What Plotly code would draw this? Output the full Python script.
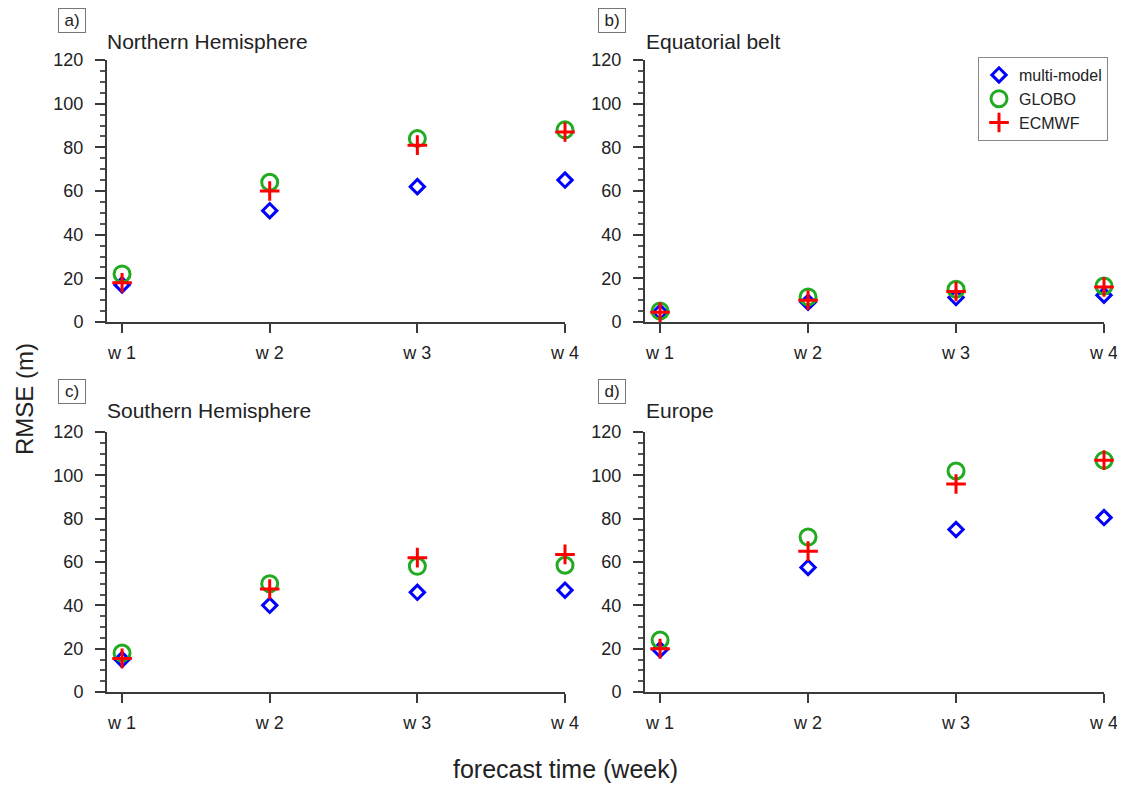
import plotly.graph_objects as go

# The page body has an 8px default margin: the figure is sized to fit inside
# the 1125x794 window and all screen positions are offset by that margin.
OFF = 8
FW, FH = 1125 - 2 * OFF, 794 - 2 * OFF


def px(x):
    return (x - OFF) / FW


def py(y):
    return 1 - (y - OFF) / FH


weeks = ["w 1", "w 2", "w 3", "w 4"]
series_names = ["multi-model", "GLOBO", "ECMWF"]
panel_titles = ["Northern Hemisphere", "Equatorial belt", "Southern Hemisphere", "Europe"]
panel_tags = ["a)", "b)", "c)", "d)"]
y_ticks = [0, 20, 40, 60, 80, 100, 120]

nh_multi = [17, 51, 62, 65]
nh_globo = [22, 64, 84, 88]
nh_ecmwf = [18, 60, 81, 87]

eq_multi = [4.5, 9, 11.2, 12.3]
eq_globo = [5, 11.5, 15, 16.5]
eq_ecmwf = [4.5, 10, 14, 16]

sh_multi = [15, 40, 46, 47]
sh_globo = [18, 50, 58, 58.5]
sh_ecmwf = [15.5, 47.5, 62, 63.5]

eu_multi = [19.5, 57.5, 75, 80.5]
eu_globo = [24, 71.5, 102, 107]
eu_ecmwf = [20, 65, 96, 107]

panels = [
    (nh_multi, nh_globo, nh_ecmwf),
    (eq_multi, eq_globo, eq_ecmwf),
    (sh_multi, sh_globo, sh_ecmwf),
    (eu_multi, eu_globo, eu_ecmwf),
]

FONT = "Liberation Sans, Arial, Helvetica, sans-serif"
AX = "#3a3a3a"
TXT = "#222222"

styles = [
    dict(symbol="diamond-open", size=11, color="#0000FF", line=dict(width=3, color="#0000FF")),
    dict(symbol="circle-open", size=16, color="#22AA22", line=dict(width=3, color="#22AA22")),
    dict(symbol="cross-thin-open", size=14, color="#FF0000", line=dict(width=3, color="#FF0000")),
]

# screen-pixel geometry of the panels (left, right, top, bottom)
boxes = [
    (107, 565, 60, 322),
    (645, 1104, 60, 322),
    (107, 565, 432, 692),
    (645, 1104, 432, 692),
]

fig = go.Figure()
layout = {}
for i, (vals, box) in enumerate(zip(panels, boxes)):
    n = "" if i == 0 else str(i + 1)
    for v, st, name in zip(vals, styles, series_names):
        fig.add_trace(go.Scatter(
            x=weeks, y=v, mode="markers", name=name, marker=st,
            xaxis="x" + n, yaxis="y" + n, cliponaxis=False,
            legendgroup=name, showlegend=(i == 1),
        ))
    l, r, t, b = box
    layout["xaxis" + n] = dict(
        domain=[px(l), px(r)], anchor="y" + n, type="category",
        categoryorder="array", categoryarray=weeks, automargin=False,
        range=[-0.102, 3.0], showline=True, linecolor=AX, linewidth=2,
        ticks="outside", ticklen=9, tickwidth=2, tickcolor=AX,
        showgrid=False, zeroline=False,
        tickfont=dict(size=18, color=TXT, family=FONT), ticklabelstandoff=4,
    )
    layout["yaxis" + n] = dict(
        domain=[py(b), py(t)], anchor="x" + n, automargin=False,
        range=[0, 120], tickmode="array", tickvals=y_ticks,
        showline=True, linecolor=AX, linewidth=2,
        ticks="outside", ticklen=10, tickwidth=2, tickcolor=AX,
        minor=dict(ticks="outside", dtick=5, tick0=0, ticklen=5, tickwidth=1.5, tickcolor="#555"),
        showgrid=False, zeroline=False,
        tickfont=dict(size=18, color=TXT, family=FONT), ticklabelstandoff=8,
    )

annotations = []
tag_pos = [(72, 20.5), (611.5, 20.5), (72, 391), (611.5, 391.5)]
title_pos = [(105, 41), (644, 41), (105, 411), (644, 411)]
for tag, (tx, ty), title, (qx, qy) in zip(panel_tags, tag_pos, panel_titles, title_pos):
    annotations.append(dict(
        text=tag, x=px(tx), y=py(ty), xref="paper", yref="paper",
        xanchor="center", yanchor="middle", showarrow=False,
        font=dict(size=17, color=TXT, family=FONT),
        bordercolor="#777", borderwidth=1, borderpad=2, width=22, height=19,
    ))
    annotations.append(dict(
        text=title, x=px(qx), y=py(qy), xref="paper", yref="paper",
        xanchor="left", yanchor="middle", showarrow=False,
        font=dict(size=21, color=TXT, family=FONT),
    ))

annotations.append(dict(
    text="RMSE (m)", x=px(24), y=py(399), xref="paper", yref="paper",
    xanchor="center", yanchor="middle", showarrow=False, textangle=-90,
    font=dict(size=24, color=TXT, family=FONT),
))
annotations.append(dict(
    text="forecast time (week)", x=px(565), y=py(785), xref="paper", yref="paper",
    xanchor="center", yanchor="bottom", showarrow=False,
    font=dict(size=25, color=TXT, family=FONT),
))

fig.update_layout(
    width=FW, height=FH, margin=dict(l=0, r=0, t=0, b=0, autoexpand=False),
    paper_bgcolor="white", plot_bgcolor="white",
    font=dict(family=FONT, color=TXT),
    annotations=annotations,
    legend=dict(
        x=px(978), y=py(57), xanchor="left", yanchor="top",
        bordercolor="#888", borderwidth=1, bgcolor="white",
        font=dict(size=16, color=TXT, family=FONT),
        tracegroupgap=0, itemwidth=30,
    ),
    **layout,
)

fig.write_html("out.html")
